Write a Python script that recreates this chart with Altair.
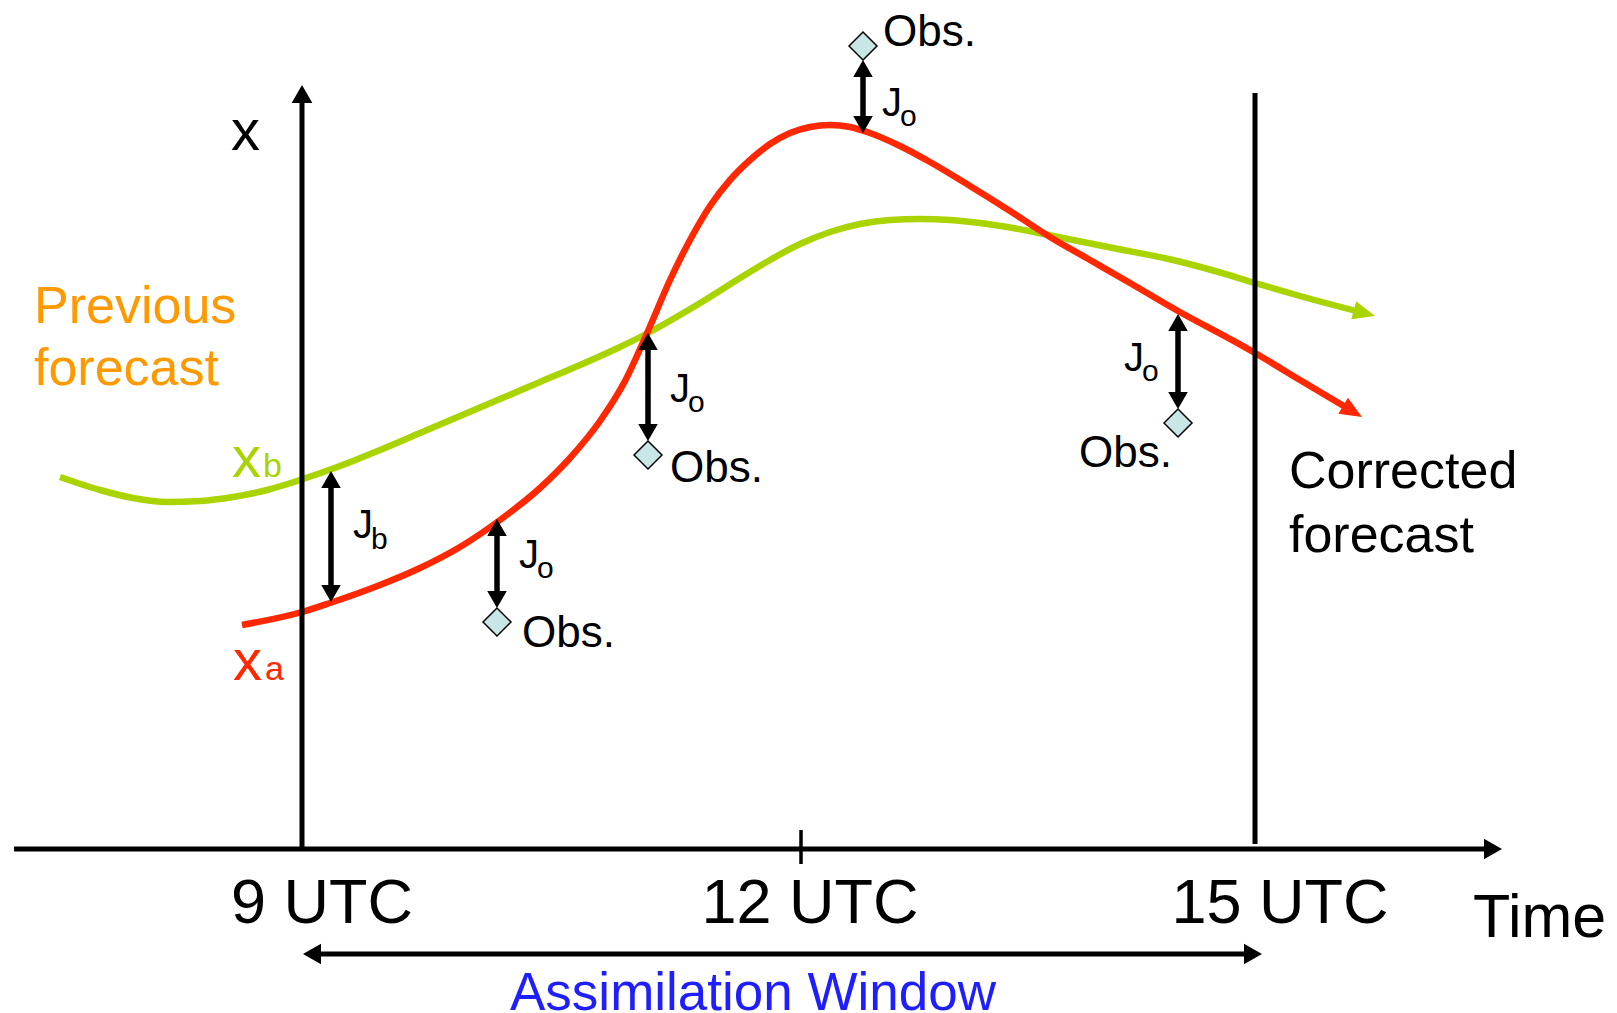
import math
import altair as alt
import pandas as pd

# ---------------- values ----------------
# diagram units: horizontal = time position, vertical = state value (downwards)
background_t = [60, 100, 133, 167, 200, 233, 267, 300, 340, 380, 420, 460, 500, 540, 580, 620, 650,
                680, 710, 740, 770, 800, 830, 860, 890, 920, 950, 980, 1013, 1053, 1113, 1173, 1215,
                1255, 1300, 1375]
background_x = [477, 490, 498, 502, 501, 497, 490, 480, 466, 450, 433, 416, 399, 382, 365, 347, 332,
                315, 297, 278, 260, 244, 232, 224, 220, 219, 220, 223, 228, 236, 248, 260, 271,
                283, 296, 316]

analysis_t = [242, 302, 330, 380, 420, 460, 500, 540, 570, 600, 625, 648, 670, 690, 710, 730, 750,
              770, 790, 810, 830, 850, 870, 900, 930, 970, 1010, 1050, 1090, 1130, 1178, 1230,
              1255, 1300, 1362]
analysis_x = [625, 612, 603, 585, 568, 547, 520, 488, 458, 421, 381, 331, 280, 240, 206, 180, 160,
              144, 133, 127, 125, 127, 133, 146, 162, 186, 211, 237, 260, 283, 311, 339,
              353, 380, 417]

obs_t = [497, 648, 863, 1178]
obs_x = [622, 455, 46, 423]
analysis_at_obs = [519, 333, 133, 314]

jb_t = 331
jb_background = 471
jb_analysis = 602

tick_t = [302, 801, 1255]
tick_labels = ["9 UTC", "12 UTC", "15 UTC"]
tick_label_center = [322, 810, 1280]
window_start, window_end = 303, 1262

# ---------------- styling / layout ----------------
W, H = 1600, 1005
FONT = "Liberation Sans"
GREEN = "#AAD400"
RED = "#FF2800"
ORANGE = "#FF9900"
BLUE = "#1E1EFF"
OBS_FILL = "#C8E6E6"
TRI_BLACK = "M0,-1L1.15,1L-1.15,1Z"
TRI_CURVE = "M0,-1L0.85,1L-0.85,1Z"

xs = alt.Scale(domain=[8, 8 + W], nice=False, zero=False)
ys = alt.Scale(domain=[8, 8 + H], nice=False, zero=False, reverse=True)


def head(tip, frm, length, color, shape=TRI_BLACK):
    dx, dy = tip[0] - frm[0], tip[1] - frm[1]
    n = math.hypot(dx, dy)
    ux, uy = dx / n, dy / n
    return dict(x=tip[0] - ux * length / 2, y=tip[1] - uy * length / 2,
                angle=math.degrees(math.atan2(ux, -uy)) % 360,
                size=length ** 2, color=color, shape=shape)


def shorten(tip, frm, d):
    dx, dy = tip[0] - frm[0], tip[1] - frm[1]
    n = math.hypot(dx, dy)
    return (tip[0] - dx / n * d, tip[1] - dy / n * d)


segs = []
heads = []

# time axis
AX_Y = 849
heads.append(head((1502, AX_Y), (14, AX_Y), 18, "black"))
segs.append(dict(x=14, y=AX_Y, x2=1502 - 9, y2=AX_Y, w=5))
# state axis
heads.append(head((tick_t[0], 85), (tick_t[0], AX_Y), 18, "black"))
segs.append(dict(x=tick_t[0], y=AX_Y, x2=tick_t[0], y2=85 + 9, w=5))
# end of window line
segs.append(dict(x=tick_t[2], y=93, x2=tick_t[2], y2=844, w=5))
# 12 UTC tick
segs.append(dict(x=tick_t[1], y=830, x2=tick_t[1], y2=864, w=3.5))
# assimilation window arrow
WY = 954
heads.append(head((window_start, WY), (window_end, WY), 18, "black"))
heads.append(head((window_end, WY), (window_start, WY), 18, "black"))
segs.append(dict(x=window_start + 8, y=WY, x2=window_end - 8, y2=WY, w=5))


def double_arrow(t, top, bottom):
    heads.append(head((t, top), (t, bottom), 17, "black"))
    heads.append(head((t, bottom), (t, top), 17, "black"))
    segs.append(dict(x=t, y=top + 8, x2=t, y2=bottom - 8, w=5.5))


double_arrow(jb_t, jb_background, jb_analysis)
HALF_DIAMOND = 14
for t, o, a in zip(obs_t, obs_x, analysis_at_obs):
    if o > a:
        double_arrow(t, a, o - HALF_DIAMOND)
    else:
        double_arrow(t, o + HALF_DIAMOND, a)

# curves with arrow heads
curve_rows = []
for ts, vs, col in [(background_t, background_x, GREEN), (analysis_t, analysis_x, RED)]:
    tip = (ts[-1], vs[-1])
    prev = (ts[-2], vs[-2])
    heads.append(head(tip, prev, 22, col, TRI_CURVE))
    end = shorten(tip, prev, 14)
    pts = list(zip(ts[:-1], vs[:-1])) + [end]
    for i, (t, v) in enumerate(pts):
        curve_rows.append(dict(t=t, v=v, color=col, i=i))

curves_df = pd.DataFrame(curve_rows)
segs_df = pd.DataFrame(segs)
heads_df = pd.DataFrame(heads)
obs_df = pd.DataFrame(dict(t=obs_t, v=obs_x))

# texts
texts = []
def txt(s, x, y, size, color="black", align="left"):
    texts.append(dict(text=s, x=x, y=y, size=size, color=color, align=align))

txt("x", 231, 150, 58)
txt("Previous", 34, 323, 52, ORANGE)
txt("forecast", 34, 385, 52, ORANGE)
txt("x", 232, 477, 58, GREEN)
txt("b", 263, 477, 34, GREEN)
txt("x", 233, 680, 58, RED)
txt("a", 265, 680, 34, RED)
txt("Corrected", 1289, 488, 52)
txt("forecast", 1289, 552, 52)
txt("Time", 1473, 937, 61)
for lab, c in zip(tick_labels, tick_label_center):
    txt(lab, c, 923, 63, align="center")
txt("Assimilation Window", 753, 1010, 53, BLUE, align="center")

txt("J", 353, 538, 40)
txt("b", 371, 549, 30)
jo_label_pos = [(519, 568), (670, 402), (882, 116), (1124, 371)]
obs_label_pos = [(522, 647), (670, 482), (883, 46), (1079, 467)]
for (jx, jy), (ox, oy) in zip(jo_label_pos, obs_label_pos):
    txt("J", jx, jy, 40)
    txt("o", jx + 18, jy + 10, 30)
    txt("Obs.", ox, oy, 44)

texts_df = pd.DataFrame(texts)

# ---------------- layers ----------------
curves = alt.Chart(curves_df).mark_line(strokeWidth=6.5, interpolate="monotone").encode(
    x=alt.X("t:Q", scale=xs, axis=None),
    y=alt.Y("v:Q", scale=ys, axis=None),
    color=alt.Color("color:N", scale=None),
    order="i:Q",
)

rules = alt.Chart(segs_df).mark_rule(color="black").encode(
    x=alt.X("x:Q", scale=xs, axis=None),
    y=alt.Y("y:Q", scale=ys, axis=None),
    x2="x2:Q",
    y2="y2:Q",
    strokeWidth=alt.StrokeWidth("w:Q", scale=None),
)

arrowheads = alt.Chart(heads_df).mark_point(filled=True, opacity=1, strokeWidth=0).encode(
    x=alt.X("x:Q", scale=xs, axis=None),
    y=alt.Y("y:Q", scale=ys, axis=None),
    shape=alt.Shape("shape:N", scale=None),
    angle=alt.Angle("angle:Q", scale=None),
    size=alt.Size("size:Q", scale=None),
    color=alt.Color("color:N", scale=None),
)

obs = alt.Chart(obs_df).mark_point(shape="diamond", filled=True, fill=OBS_FILL, stroke="black",
                                   strokeWidth=1.5, size=784, opacity=1).encode(
    x=alt.X("t:Q", scale=xs, axis=None),
    y=alt.Y("v:Q", scale=ys, axis=None),
)


def text_layer(align):
    return alt.Chart(texts_df[texts_df["align"] == align]).mark_text(
        font=FONT, baseline="alphabetic", align=align
    ).encode(
        x=alt.X("x:Q", scale=xs, axis=None),
        y=alt.Y("y:Q", scale=ys, axis=None),
        text="text:N",
        size=alt.Size("size:Q", scale=None),
        color=alt.Color("color:N", scale=None),
    )


chart = alt.layer(curves, rules, arrowheads, obs, text_layer("left"), text_layer("center")).properties(
    width=W, height=H, padding=0, autosize="none", background="white"
).configure_view(stroke=None)

chart.save("out.html", embed_options={"renderer": "svg", "actions": False})
